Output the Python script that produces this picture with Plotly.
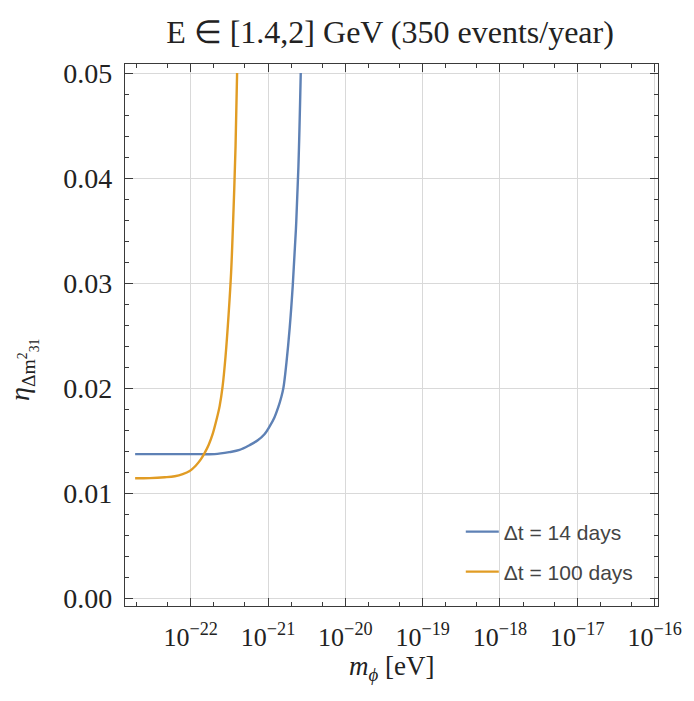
import plotly.graph_objects as go

# ---- data ----
m_14 = [1.91e-23, 4.0e-23, 8.0e-23, 1.31e-22, 2.04e-22, 3.18e-22, 4.28e-22, 5.75e-22,
        7.29e-22, 8.99e-22, 1.04e-21, 1.21e-21, 1.36e-21, 1.48e-21, 1.58e-21, 1.73e-21,
        1.91e-21, 2.09e-21, 2.29e-21, 2.47e-21, 2.65e-21]
eta_14 = [0.0137, 0.0137, 0.0137, 0.0137, 0.0137, 0.0139, 0.0141, 0.01455,
          0.0150, 0.0156, 0.0163, 0.0172, 0.0182, 0.0191, 0.0200, 0.0224,
          0.0258, 0.0298, 0.0350, 0.0410, 0.0500]

m_100 = [1.91e-23, 2.95e-23, 4.62e-23, 6.22e-23, 7.88e-23, 9.7e-23, 1.16e-22, 1.35e-22,
         1.51e-22, 1.71e-22, 1.92e-22, 2.16e-22, 2.37e-22, 2.58e-22, 2.82e-22, 3.09e-22,
         3.33e-22, 3.58e-22, 3.8e-22, 3.98e-22]
eta_100 = [0.0114, 0.01142, 0.0115, 0.0116, 0.0118, 0.0121, 0.0126, 0.0132,
           0.0138, 0.0146, 0.0156, 0.0170, 0.0183, 0.0201, 0.0230, 0.0270,
           0.0310, 0.0370, 0.0430, 0.0500]

series_names = ["Δt = 14 days", "Δt = 100 days"]
series_colors = ["#5E81B5", "#E19C24"]

x_tick_exps = [-22, -21, -20, -19, -18, -17, -16]
y_ticks = [0.00, 0.01, 0.02, 0.03, 0.04, 0.05]

title_text = "E ∈ [1.4,2] GeV (350 events/year)"
x_title = "<i>m</i><sub><i>ϕ</i></sub> [eV]"
y_title = "<i>η</i><sub>Δm<sup>2</sup><sub>31</sub></sub>"

serif = "Liberation Serif"
frame_col = "#3a3a3a"

fig = go.Figure()
for i, (xs, ys, nm, col) in enumerate([(m_14, eta_14, series_names[0], series_colors[0]),
                                       (m_100, eta_100, series_names[1], series_colors[1])]):
    fig.add_trace(go.Scatter(x=xs, y=ys, mode="lines", name=nm,
                             legend="legend" if i == 0 else "legend2",
                             line=dict(color=col, width=2.4, shape="spline", smoothing=1.0)))

leg_common = dict(x=0.63, xanchor="left", yanchor="middle",
                  bgcolor="rgba(255,255,255,0)", borderwidth=0,
                  font=dict(family="Liberation Sans", size=21, color="#444"),
                  itemwidth=33)

fig.update_layout(
    width=694, height=701,
    margin=dict(l=125, r=34, t=64, b=95),
    paper_bgcolor="white", plot_bgcolor="white",
    title=dict(text=title_text, x=0.562, xanchor="center", y=1 - 32 / 701, yanchor="middle",
               yref="container", font=dict(family=serif, size=32, color="#222")),
    showlegend=True,
    legend=dict(y=(606 - 532) / 542, **leg_common),
    legend2=dict(y=(606 - 572) / 542, **leg_common),
)

fig.update_xaxes(
    type="log", range=[-22.85, -15.956],
    tickvals=[10.0 ** e for e in x_tick_exps],
    ticktext=["10<sup>−%d</sup>" % (-e) for e in x_tick_exps],
    tickfont=dict(family=serif, size=26, color="#222"),
    ticklabelstandoff=8,
    ticks="inside", ticklen=8, tickwidth=1, tickcolor=frame_col,
    showline=True, linecolor=frame_col, linewidth=1.3, mirror="ticks",
    showgrid=True, gridcolor="#d9d9d9", gridwidth=1.2,
    minor=dict(ticks="inside", ticklen=4, tickcolor=frame_col, showgrid=False),
    zeroline=False,
)
fig.update_yaxes(
    range=[-0.00076, 0.05086],
    tickvals=y_ticks, ticktext=["%.2f" % v for v in y_ticks],
    tickfont=dict(family=serif, size=28, color="#222"),
    ticklabelstandoff=6,
    ticks="inside", ticklen=8, tickwidth=1, tickcolor=frame_col,
    showline=True, linecolor=frame_col, linewidth=1.3, mirror="ticks",
    showgrid=True, gridcolor="#d9d9d9", gridwidth=1.2,
    minor=dict(ticks="inside", ticklen=4, tickcolor=frame_col, dtick=0.002, showgrid=False),
    zeroline=False,
)

fig.add_annotation(text=x_title, xref="paper", yref="paper", x=0.5, y=-0.08, yanchor="top",
                   showarrow=False, font=dict(family=serif, size=27, color="#222"))
fig.add_annotation(text=y_title, xref="paper", yref="paper", x=-0.19, y=0.435, xanchor="center",
                   textangle=-90, showarrow=False, font=dict(family=serif, size=28, color="#222"))

fig.write_html("out.html")
